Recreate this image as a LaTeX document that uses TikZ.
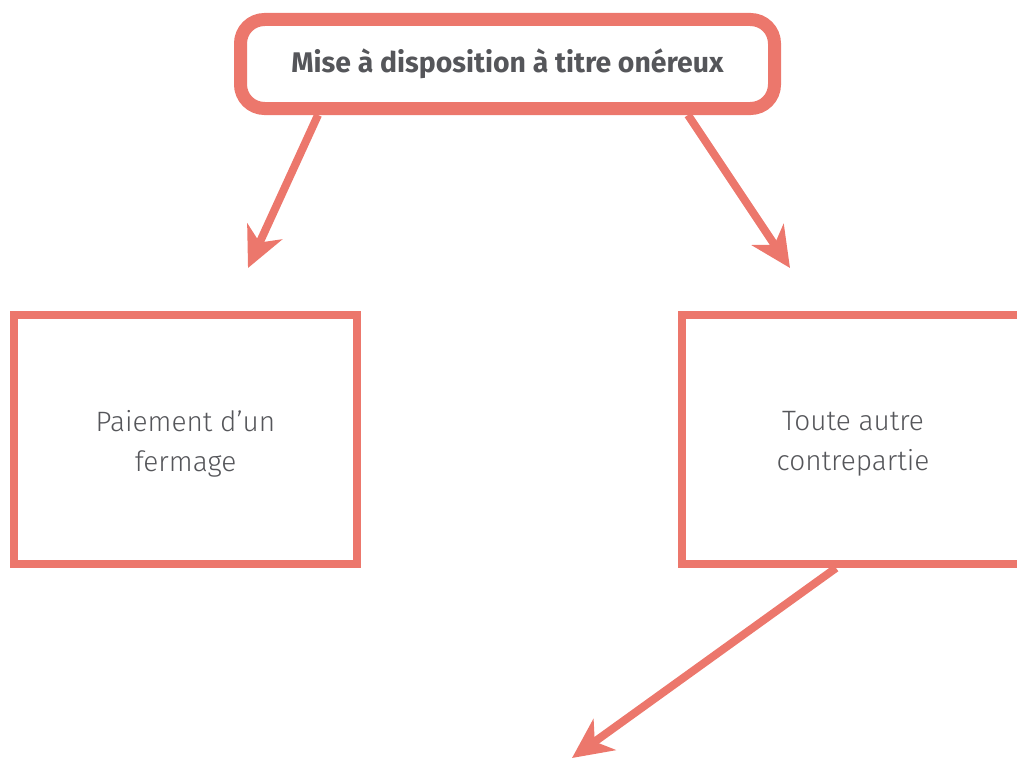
\documentclass[tikz,border=0pt]{standalone}
\usepackage{fontspec}
\setmainfont{Fira Sans}
\newfontfamily\leger{Fira Sans Light}
\usetikzlibrary{arrows.meta}
\definecolor{corail}{HTML}{EC776C}
\definecolor{texte}{HTML}{55565A}

\tikzset{
  titre/.style={draw=corail, line width=13pt, rounded corners=24pt, fill=white,
    minimum width=534pt, minimum height=89pt, text=texte,
    font=\fontsize{28.4}{32}\selectfont\bfseries},
  cadre/.style={draw=corail, line width=8pt, fill=white, minimum width=343pt,
    minimum height=249pt},
  corps/.style={align=center, text=texte, font=\leger\fontsize{28}{40}\selectfont},
  fleche/.style={->, draw=corail, line width=8pt}
}

\begin{document}
\begin{tikzpicture}[line cap=butt, line join=miter, >={Stealth[length=40pt,width=38pt,inset=12pt]}, x=1pt, y=-1pt]
  \useasboundingbox (0,0) rectangle (1017,760);
  \clip (0,0) rectangle (1017,760);
  % top of the tree
  \node[titre] (mise) at (507.5,64) {\raisebox{-2pt}{Mise à disposition à titre onéreux}};
  % the two kinds
  \node[cadre] (fermage) at (185.5,439.5) {};
  \node[cadre, minimum width=342pt] (autre) at (853,439.5) {};
  \node[corps] (fermagetxt) at ([yshift=-4pt]fermage) {Paiement d’un\\fermage};
  \node[corps] (autretxt) at ([yshift=-4pt]autre) {Toute autre\\contrepartie};
  % free ends
  \coordinate (pointeG) at (248,268);
  \coordinate (pointeD) at (790,268);
  \coordinate (pointeB) at (572,758);
  \draw[fleche] ([xshift=-189.5pt]mise.south) -- (pointeG);
  \draw[fleche] ([xshift=180.5pt]mise.south) -- (pointeD);
  \draw[fleche] ([xshift=-17pt]autre.south) -- (pointeB);
\end{tikzpicture}
\end{document}
